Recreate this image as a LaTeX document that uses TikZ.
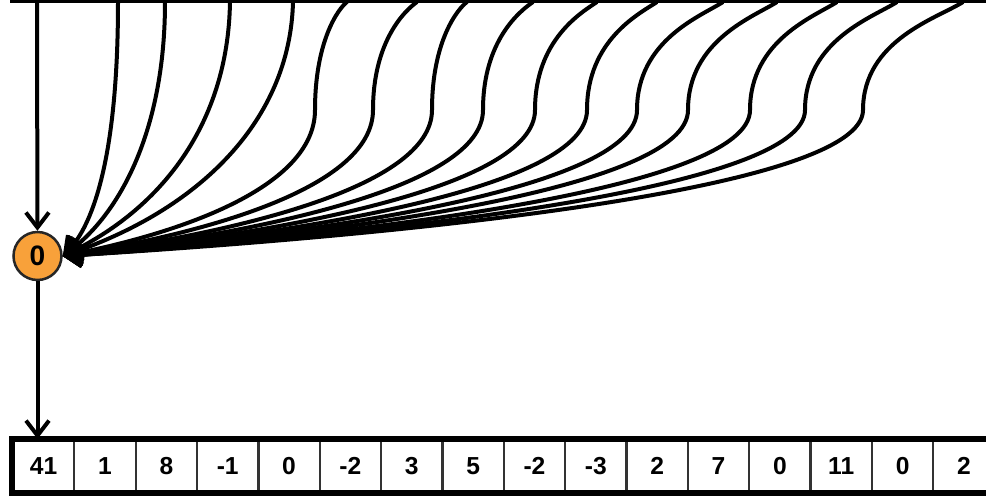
\documentclass[tikz,border=0pt]{standalone}
\usepackage{fontspec}
\setmainfont{Liberation Sans}
\usetikzlibrary{arrows.meta, positioning}
\definecolor{sumorange}{HTML}{F8A13A}

\begin{document}
\begin{tikzpicture}[
    x=0.02cm, y=-0.02cm,
    sumnode/.style={circle, draw=black!85, line width=0.05cm, fill=sumorange, minimum size=0.96cm, inner sep=0pt, font=\bfseries\fontsize{16}{18}\selectfont},
    cellbox/.style={rectangle, draw=black!80, line width=0.045cm, minimum width=1.227cm, minimum height=1.04cm, inner sep=0pt, font=\bfseries\fontsize{14}{16}\selectfont},
    link/.style={line width=0.08cm, ->, >={Straight Barb[length=0.3cm, width=0.46cm]}}
]
\useasboundingbox (0,0) rectangle (986,495);
\clip (0,0) rectangle (986,495);

% Top bar and inputs
\draw[line width=0.09cm] (10,1) -- (1000,1);
\foreach \x [count=\i] in {37,118,165,230,293,347,417,467,533,597,657,723,777,837,897,963}
    \coordinate (t\i) at (\x,2);

% Sum
\node[sumnode] (sum) at (37.5,256) {0};

% Array
\foreach \v [count=\i] in {41,1,8,-1,0,-2,3,5,-2,-3,2,7,0,11,0,2}
    \node[cellbox] (c\i) at ({13+61.35*(\i-0.5)},466) {\v};
\draw[line width=0.12cm] (c1.north west) rectangle (c16.south east);

% Flow
\draw[link] (t1) -- (sum);
\foreach \i/\ax/\ay/\bx/\by in {2/118/150/95/225, 3/165/130/120/215, 4/228/125/160/210, 5/290/120/200/210}
    \draw[link] (t\i) .. controls (\ax,\ay) and (\bx,\by) .. (sum.east);
\foreach \i/\x/\v in {6/347/315, 7/417/373, 8/467/432, 9/533/483, 10/597/535, 11/657/587, 12/723/637, 13/777/688, 14/837/750, 15/897/805, 16/963/863}
    \draw[link] (t\i) .. controls ({\x-0.25*(\x-\v)},{3+0.15*(\x-\v)}) and (\v,40) .. (\v,110)
        .. controls (\v,188) and ({65+0.45*(\v-65)},234) .. (sum.east);
\draw[link] (sum) -- (sum |- c1.north);

\end{tikzpicture}
\end{document}
